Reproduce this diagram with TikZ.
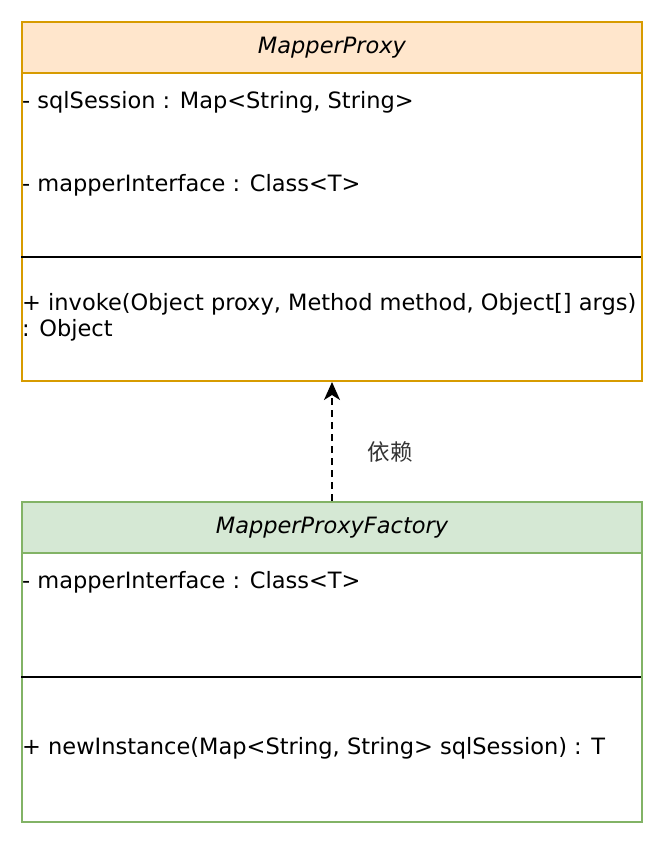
\documentclass[tikz,border=0pt]{standalone}
\usepackage{fontspec}
\setmainfont{DejaVu Sans}
\newfontfamily\cjk{Noto Sans CJK SC}
\usetikzlibrary{arrows.meta}
\definecolor{proxyfill}{HTML}{FFE6CC}
\definecolor{proxyline}{HTML}{D79B00}
\definecolor{factoryfill}{HTML}{D5E8D4}
\definecolor{factoryline}{HTML}{82B366}

\begin{document}
\begin{tikzpicture}[x=1pt,y=1pt]
			\tikzstyle{every node}+=[inner sep=0pt, font=\fontsize{22.5}{26}\selectfont]
			\tikzstyle{classbox}=[rectangle, anchor=north west, minimum width=620pt, line width=2pt]
			\tikzstyle{member}=[anchor=west, align=left]
			\useasboundingbox (0,0) rectangle (664,-844);
			\node [classbox, draw=proxyline, fill=white, minimum height=359pt] (proxy) at (21,-21) {};
			\node [classbox, draw=proxyline, fill=proxyfill, minimum height=51pt] (proxyhead) at (21,-21) {};
			\draw (proxyhead) node {\itshape MapperProxy};
			\draw [black, line width=2pt] (21,-257) -- (641,-257);
			\node [member] (sqlsession) at (22,-102) {- sqlSession : Map<String, String>};
			\node [member] (mapperif) at (22,-185) {- mapperInterface : Class<T>};
			\node [member] (invoke) at (22,-317) {+ invoke(Object proxy, Method method, Object[] args)\\: Object};
			\node [classbox, draw=factoryline, fill=white, minimum height=320pt] (factory) at (21,-501) {};
			\node [classbox, draw=factoryline, fill=factoryfill, minimum height=51pt] (factoryhead) at (21,-501) {};
			\draw (factoryhead) node {\itshape MapperProxyFactory};
			\draw [black, line width=2pt] (21,-677) -- (641,-677);
			\node [member] (factoryif) at (22,-582) {- mapperInterface : Class<T>};
			\node [member] (newinst) at (22,-748) {+ newInstance(Map<String, String> sqlSession) : T};
			\draw [black, line width=2pt, dash pattern=on 7pt off 5pt, -{Stealth[length=18pt, width=16pt, inset=5pt]}] (factory.north) -- (proxy.south);
			\draw (390,-452) node [text=black!80] (depend) {\cjk 依赖};
		\end{tikzpicture}
\end{document}
